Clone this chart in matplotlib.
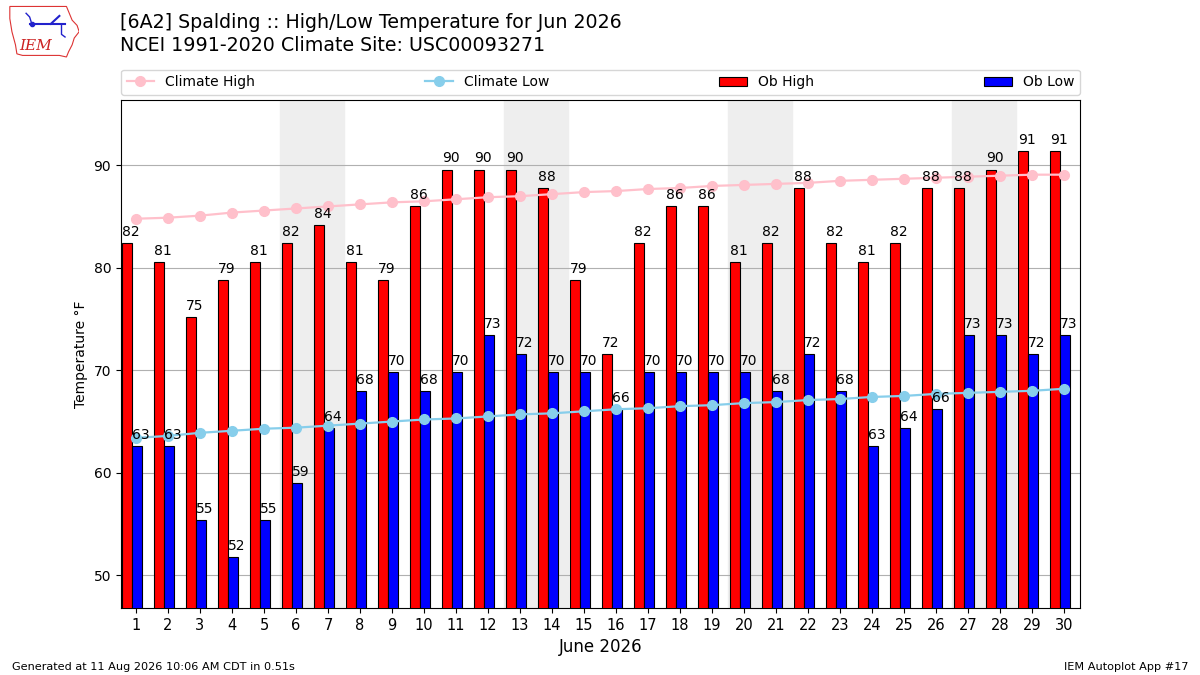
import numpy as np
import matplotlib
matplotlib.use("Agg")
import matplotlib.pyplot as plt
from matplotlib.patches import Polygon

# daily observations (F), June 2026
days = np.arange(1, 31)
highs = [82.4, 80.6, 75.2, 78.8, 80.6, 82.4, 84.2, 80.6, 78.8, 86.0,
         89.6, 89.6, 89.6, 87.8, 78.8, 71.6, 82.4, 86.0, 86.0, 80.6,
         82.4, 87.8, 82.4, 80.6, 82.4, 87.8, 87.8, 89.6, 91.4, 91.4]
lows = [62.6, 62.6, 55.4, 51.8, 55.4, 59.0, 64.4, 68.0, 69.8, 68.0,
        69.8, 73.4, 71.6, 69.8, 69.8, 66.2, 69.8, 69.8, 69.8, 69.8,
        68.0, 71.6, 68.0, 62.6, 64.4, 66.2, 73.4, 73.4, 71.6, 73.4]
# climatology (NCEI 1991-2020)
clim_high = [84.8, 84.9, 85.1, 85.4, 85.6, 85.8, 86.0, 86.2, 86.4, 86.5,
             86.7, 86.9, 87.0, 87.2, 87.4, 87.5, 87.7, 87.8, 88.0, 88.1,
             88.2, 88.3, 88.5, 88.6, 88.7, 88.8, 88.9, 89.0, 89.1, 89.1]
clim_low = [63.4, 63.6, 63.9, 64.1, 64.3, 64.4, 64.6, 64.8, 65.0, 65.2,
            65.3, 65.5, 65.7, 65.8, 66.0, 66.2, 66.3, 66.5, 66.6, 66.8,
            66.9, 67.1, 67.2, 67.4, 67.5, 67.7, 67.8, 67.9, 68.0, 68.2]
weekends = [6, 13, 20, 27]

fig = plt.figure(figsize=(12, 6.75), dpi=100)
ax = fig.add_axes([0.1008, 0.0993, 0.7992, 0.7527])

for w in weekends:
    ax.axvspan(w - 0.5, w + 1.5, color="#eeeeee", zorder=0)

ax.plot(days, clim_high, color="pink", marker="o", lw=1.6, ms=7, label="Climate High", zorder=4)
ax.plot(days, clim_low, color="skyblue", marker="o", lw=1.6, ms=7, label="Climate Low", zorder=4)
ax.bar(days - 0.285, highs, width=0.3, fc="r", ec="k", lw=0.8, label="Ob High", zorder=3)
ax.bar(days + 0.02, lows, width=0.32, fc="b", ec="k", lw=0.8, label="Ob Low", zorder=3)

for d, h, l in zip(days, highs, lows):
    ax.text(d - 0.17, h + 0.4, "%.0f" % h, ha="center", va="bottom", fontsize=10, zorder=5)
    ax.text(d + 0.14, l + 0.4, "%.0f" % l, ha="center", va="bottom", fontsize=10, zorder=5)

ax.set_xlim(0.53, 30.5)
ax.set_ylim(min(lows) - 5, max(highs) + 5)
ax.set_xticks(days)
ax.set_xticklabels([str(d) for d in days], fontsize=10.5)
ax.set_yticks([50, 60, 70, 80, 90])
ax.tick_params(axis="y", labelsize=10)
ax.grid(axis="y", zorder=1)
ax.set_axisbelow(True)
ax.set_ylabel("Temperature °F", fontsize=10)
ax.set_xlabel("June 2026", fontsize=12)

ax.legend(bbox_to_anchor=(0, 1.01, 1, 0.05), loc="lower left", mode="expand",
          ncol=4, fontsize=10, borderaxespad=0)

fig.text(0.1, 0.952, "[6A2] Spalding :: High/Low Temperature for Jun 2026", fontsize=13.7, va="bottom")
fig.text(0.1, 0.918, "NCEI 1991-2020 Climate Site: USC00093271", fontsize=13.7, va="bottom")
fig.text(0.01, 0.008, "Generated at 11 Aug 2026 10:06 AM CDT in 0.51s", fontsize=8.1)
fig.text(0.99, 0.008, "IEM Autoplot App #17", fontsize=8.1, ha="right")

# rough IEM logo
lax = fig.add_axes([0.007, 0.914, 0.059, 0.078])
lax.set_xlim(0, 1)
lax.set_ylim(0, 1)
lax.axis("off")
outline = [(0.02, 0.98), (0.82, 0.98), (0.86, 0.85), (0.9, 0.72), (0.97, 0.62), (1.0, 0.5),
           (0.93, 0.38), (0.9, 0.25), (0.85, 0.12), (0.82, 0.02), (0.72, 0.05), (0.2, 0.05),
           (0.12, 0.08), (0.1, 0.25), (0.05, 0.5), (0.02, 0.75)]
lax.add_patch(Polygon(outline, closed=True, fill=False, ec="#dd3333", lw=0.8))
lax.text(0.38, 0.22, "IEM", color="#cc2222", fontsize=11, family="DejaVu Serif",
         style="italic", ha="center", va="center")
lax.plot([0.3, 0.8], [0.65, 0.65], color="#2222cc", lw=1.5)
lax.plot([0.33], [0.65], "o", color="#2222cc", ms=3)
lax.plot([0.6, 0.72], [0.65, 0.8], color="#2222cc", lw=1.5)
lax.plot([0.25, 0.3, 0.33], [0.85, 0.78, 0.65], color="#2222cc", lw=1)
lax.plot([0.75, 0.75, 0.8], [0.65, 0.45, 0.4], color="#2222cc", lw=1)

fig.savefig("out.png", dpi=100)
